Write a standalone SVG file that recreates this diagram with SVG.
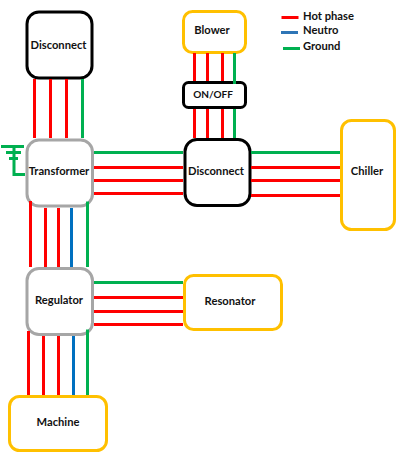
<svg xmlns="http://www.w3.org/2000/svg" width="401" height="459" viewBox="0 0 401 459">
<style>
.t{font-family:Lato,"Open Sans","Liberation Sans",sans-serif;font-size:11.200px;font-weight:700;fill:#111;text-anchor:middle}
.l{text-anchor:start}
.n{fill:#fff;stroke-width:3}
.k{stroke:#000}.g{stroke:#a6a6a6}.y{stroke:#ffc000}
.w{fill:none;stroke-width:3}
.r{stroke:#f00}.e{stroke:#00b050}.b{stroke:#0070c0}
</style>
<rect width="401" height="459" fill="#fff"/>
<g id="disconnect-top"><rect class="n k" x="27" y="12" width="65" height="66" rx="12"/><text class="t" x="58.500" y="49">Disconnect</text></g>
<g id="blower"><rect class="n y" x="183.500" y="11.500" width="62" height="41" rx="9"/><text class="t" x="212" y="34">Blower</text></g>
<g id="onoff"><rect class="n k" x="183.500" y="82.500" width="62" height="25" rx="5"/><text class="t" x="213" y="98" style="font-size:10px">ON/OFF</text></g>
<g id="transformer"><rect class="n g" x="27" y="140" width="65.500" height="66" rx="12"/><text class="t" x="59" y="175">Transformer</text></g>
<g id="disconnect-mid"><rect class="n k" x="185" y="139.500" width="65" height="66" rx="12"/><text class="t" x="216" y="175">Disconnect</text></g>
<g id="chiller"><rect class="n y" x="341.500" y="120.500" width="53" height="109" rx="10"/><text class="t" x="367" y="175">Chiller</text></g>
<g id="regulator"><rect class="n g" x="27" y="268.500" width="65.500" height="66" rx="12"/><text class="t" x="59" y="304">Regulator</text></g>
<g id="resonator"><rect class="n y" x="184.500" y="275.500" width="97" height="54" rx="9"/><text class="t" x="230" y="305">Resonator</text></g>
<g id="machine"><rect class="n y" x="9.500" y="396.500" width="97" height="54" rx="10"/><text class="t" x="58" y="426">Machine</text></g>
<g id="legend"><text class="t l" x="303" y="20">Hot phase</text><text class="t l" x="303" y="34">Neutro</text><text class="t l" x="303" y="50">Ground</text></g>
<g id="connectors" class="w">
<path class="r" d="M34.500 79V138M50.500 79V138M66.500 79V138"/><path class="e" d="M82.500 79V138"/>
<path class="r" d="M194.500 53V81M207.500 53V81M222.500 53V81"/><path class="e" d="M234.500 53V84"/>
<path class="r" d="M194.500 109V138M207.500 109V138M222.500 109V138"/><path class="e" d="M234.500 109V138"/>
<path class="e" d="M94 152.500H183"/><path class="r" d="M94 167.500H183M94 180.500H183M94 193.500H183"/>
<path class="e" d="M251 152.500H340"/><path class="r" d="M251 167.500H340M251 180.500H340M251 195.500H340"/>
<path class="r" d="M30.500 201V267M45.500 208V267M58.500 208V267"/><path class="b" d="M71.500 208V267"/><path class="e" d="M87.500 201.500V267"/>
<path class="e" d="M94 282.500H183"/><path class="r" d="M94 297.500H183M94 311.500H183M94 324.500H183"/>
<path class="r" d="M28.500 331V395M43.500 336V395M58.500 336V395"/><path class="b" d="M73.500 336V395"/><path class="e" d="M87.500 329.500V395"/>
<path class="e" d="M1 146.500H24M6 152.500H21M9 158.500H18M14 147V174.500H25"/>
<path class="r" d="M281.500 17.500H298.500"/><path stroke="#2e75b6" d="M281 32.500H298"/><path class="e" d="M283 48.500H300"/>
</g>
</svg>
